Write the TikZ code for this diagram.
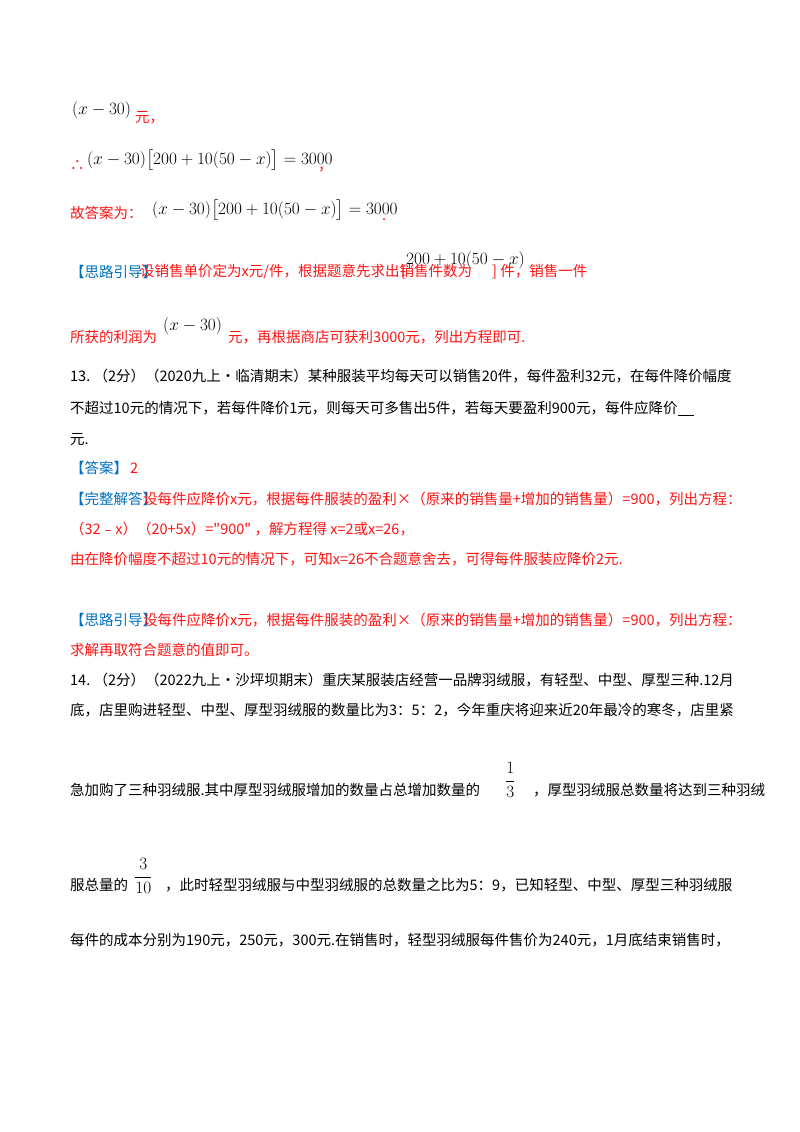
\documentclass[tikz,border=0pt]{standalone}
\usepackage{amsmath}
\usepackage{fontspec}
\setmainfont{Liberation Serif}
\newfontfamily\cjk{Noto Sans CJK SC}
\definecolor{rd}{RGB}{255,20,20}
\definecolor{bl}{RGB}{0,112,192}
\begin{document}
\begin{tikzpicture}[x=1pt,y=-1pt,
  t/.style={anchor=west,inner sep=0pt,font=\cjk\fontsize{14.5}{16}\selectfont},
  r/.style={t,text=rd},
  m/.style={anchor=west,inner sep=0pt,font=\fontsize{16.5}{18}\selectfont}]
\useasboundingbox (0,0) rectangle (800,1132);
\fill[white] (0,0) rectangle (800,1132);
\node[m] (a1) at (72,110) {$(x-30)$};
\node[r] (a2) at (135,118) {元，};
\node[r] (b1) at (70,166) {∴};
\node[m] (b2) at (87,160) {$(x-30)\bigl[200+10(50-x)\bigr]=3000$};
\node[r] (b3) at (318,170) {，};
\node[r] (c1) at (70,213) {故答案为：};
\node[m] (c2) at (152,210) {$(x-30)\bigl[200+10(50-x)\bigr]=3000$};
\node[r] (c3) at (382,220) {.};
\node[t,text=bl] (d1) at (70,272) {【思路引导】};
\node[r] (d2) at (140,272) {设销售单价定为x元/件，根据题意先求出销售件数为};
\node[r] (d2b) at (401,272) {[};
\node[m] (d3) at (406,260) {$200+10(50-x)$};
\node[r] (d4) at (492,272) {] 件，销售一件};
\node[r] (e1) at (70,337) {所获的利润为};
\node[m] (e2) at (163,326) {$(x-30)$};
\node[r] (e3) at (228,337) {元，再根据商店可获利3000元，列出方程即可.};
\node[t] (f1) at (70,376) {13.\ （2分）（2020九上·临清期末）某种服装平均每天可以销售20件，每件盈利32元，在每件降价幅度};
\node[t] (f2) at (70,408) {不超过10元的情况下，若每件降价1元，则每天可多售出5件，若每天要盈利900元，每件应降价\rule[-2pt]{16pt}{0.6pt}};
\node[t] (f3) at (70,440) {元.};
\node[t,text=bl] (g1) at (70,468) {【答案】};
\node[r] (g2) at (130,468) {2};
\node[t,text=bl] (h1) at (70,499) {【完整解答】};
\node[r] (h2) at (143,499) {设每件应降价x元，根据每件服装的盈利×（原来的销售量+增加的销售量）=900，列出方程：};
\node[r] (i1) at (70,529) {（32﹣x）（20+5x）="900"\ ，解方程得\ x=2或x=26，};
\node[r] (j1) at (70,559) {由在降价幅度不超过10元的情况下，可知x=26不合题意舍去，可得每件服装应降价2元.};
\node[t,text=bl] (k1) at (70,620) {【思路引导】};
\node[r] (k2) at (143,620) {设每件应降价x元，根据每件服装的盈利×（原来的销售量+增加的销售量）=900，列出方程：};
\node[r] (l1) at (70,650) {求解再取符合题意的值即可。};
\node[t] (m1) at (70,680) {14.\ （2分）（2022九上·沙坪坝期末）重庆某服装店经营一品牌羽绒服，有轻型、中型、厚型三种.12月};
\node[t] (m2) at (70,710) {底，店里购进轻型、中型、厚型羽绒服的数量比为3：5：2，今年重庆将迎来近20年最冷的寒冬，店里紧};
\node[m] (n0) at (505,780) {$\dfrac{1}{3}$};
\node[t] (n1) at (70,790) {急加购了三种羽绒服.其中厚型羽绒服增加的数量占总增加数量的};
\node[t] (n2) at (533,790) {，厚型羽绒服总数量将达到三种羽绒};
\node[m] (o0) at (134,876) {$\dfrac{3}{10}$};
\node[t] (o1) at (70,885) {服总量的};
\node[t] (o2) at (165,885) {，此时轻型羽绒服与中型羽绒服的总数量之比为5：9，已知轻型、中型、厚型三种羽绒服};
\node[t] (p1) at (70,940) {每件的成本分别为190元，250元，300元.在销售时，轻型羽绒服每件售价为240元，1月底结束销售时，};
\end{tikzpicture}
\end{document}
